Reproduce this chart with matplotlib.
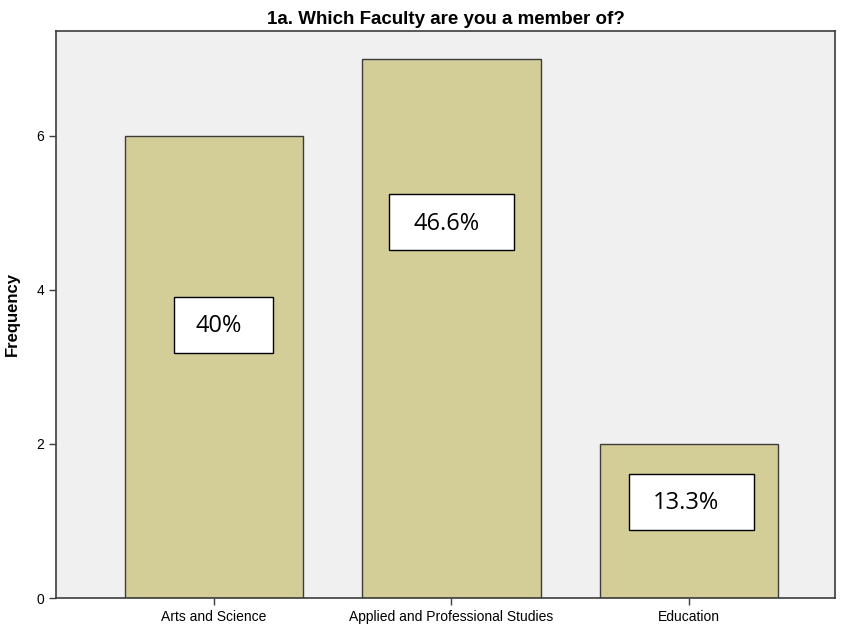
import matplotlib.pyplot as plt
from matplotlib.patches import Rectangle

categories = ["Arts and Science", "Applied and Professional Studies", "Education"]
freq = [6, 7, 2]
pct_labels = ["40%", "46.6%", "13.3%"]
# label box centres (x offset from bar centre, y in data units)
label_y = [3.55, 4.88, 1.25]
label_dx = [0.04, 0.0, 0.01]
label_w = [0.42, 0.526, 0.526]

fig = plt.figure(figsize=(8.47, 6.26), dpi=100)
ax = fig.add_axes([56/847, 1-598/626, 779/847, 567/626])
ax.set_facecolor("#F0F0F0")

x = range(len(categories))
ax.bar(x, freq, width=0.75, color="#D3CE97", edgecolor="#3C3C3C", linewidth=1.0, zorder=2)

for i in x:
    cx = i + label_dx[i]
    w = label_w[i]
    h = 0.727
    ax.add_patch(Rectangle((cx - w/2, label_y[i] - h/2), w, h, facecolor="white",
                           edgecolor="black", linewidth=1.0, zorder=3))
    ax.text(cx - 0.022, label_y[i] - 0.02, pct_labels[i], ha="center", va="center",
            fontsize=17, family="Open Sans", zorder=4)

ax.set_xlim(-0.665, 2.615)
ax.set_ylim(0, 7.36)
ax.set_yticks([0, 2, 4, 6])
ax.set_xticks(list(x))
ax.set_xticklabels(categories, family="Liberation Sans", fontsize=10)
for t in ax.get_yticklabels():
    t.set_family("Liberation Sans")
    t.set_fontsize(10)
ax.tick_params(axis="both", length=5, color="#3C3C3C", width=1)
for s in ax.spines.values():
    s.set_color("#3C3C3C")
    s.set_linewidth(1.2)

ax.set_ylabel("Frequency", family="Liberation Sans", fontweight="bold", fontsize=12, labelpad=12)
ax.set_title("1a. Which Faculty are you a member of?", family="Liberation Sans",
             fontweight="bold", fontsize=13.5, pad=5)

fig.savefig("out.png", dpi=100)
